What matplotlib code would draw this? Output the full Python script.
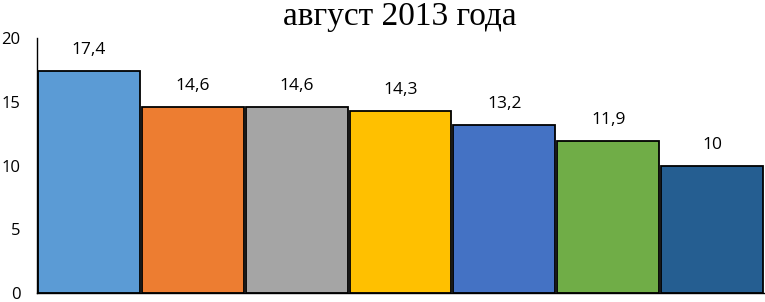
import numpy as np
import matplotlib.pyplot as plt

values = [17.4, 14.6, 14.6, 14.3, 13.2, 11.9, 10]
labels = ["17,4", "14,6", "14,6", "14,3", "13,2", "11,9", "10"]
colors = ["#5B9BD5", "#ED7D31", "#A5A5A5", "#FFC000", "#4472C4", "#70AD47", "#255E91"]
yticks = [0, 5, 10, 15, 20]

fig = plt.figure(figsize=(7.65, 3.02), dpi=100)
ax = fig.add_axes([37 / 765, 9 / 302, 727 / 765, 255 / 302])

x = np.arange(len(values))
bars = ax.bar(x, values, width=0.98, color=colors, edgecolor="black", linewidth=1.3)

for xi, v, lab in zip(x, values, labels):
    ax.annotate(lab, (xi, v), xytext=(0, 15), textcoords="offset points",
                ha="center", va="center", fontsize=12.5, family="Open Sans")

ax.set_xlim(-0.5, len(values) - 0.5)
ax.set_ylim(0, 20)
ax.set_yticks(yticks)
ax.set_yticklabels([str(t) for t in yticks], fontsize=12, family="Open Sans")
ax.set_xticks([])
ax.tick_params(axis="y", length=0, pad=12)
for side in ["top", "right"]:
    ax.spines[side].set_visible(False)
ax.spines["left"].set_linewidth(1)
ax.spines["bottom"].set_linewidth(1)

fig.text(400 / 765, 1 - 17 / 302, "август 2013 года", ha="center", va="center",
         fontsize=24, family="Liberation Serif")

fig.savefig("out.png", dpi=100)
